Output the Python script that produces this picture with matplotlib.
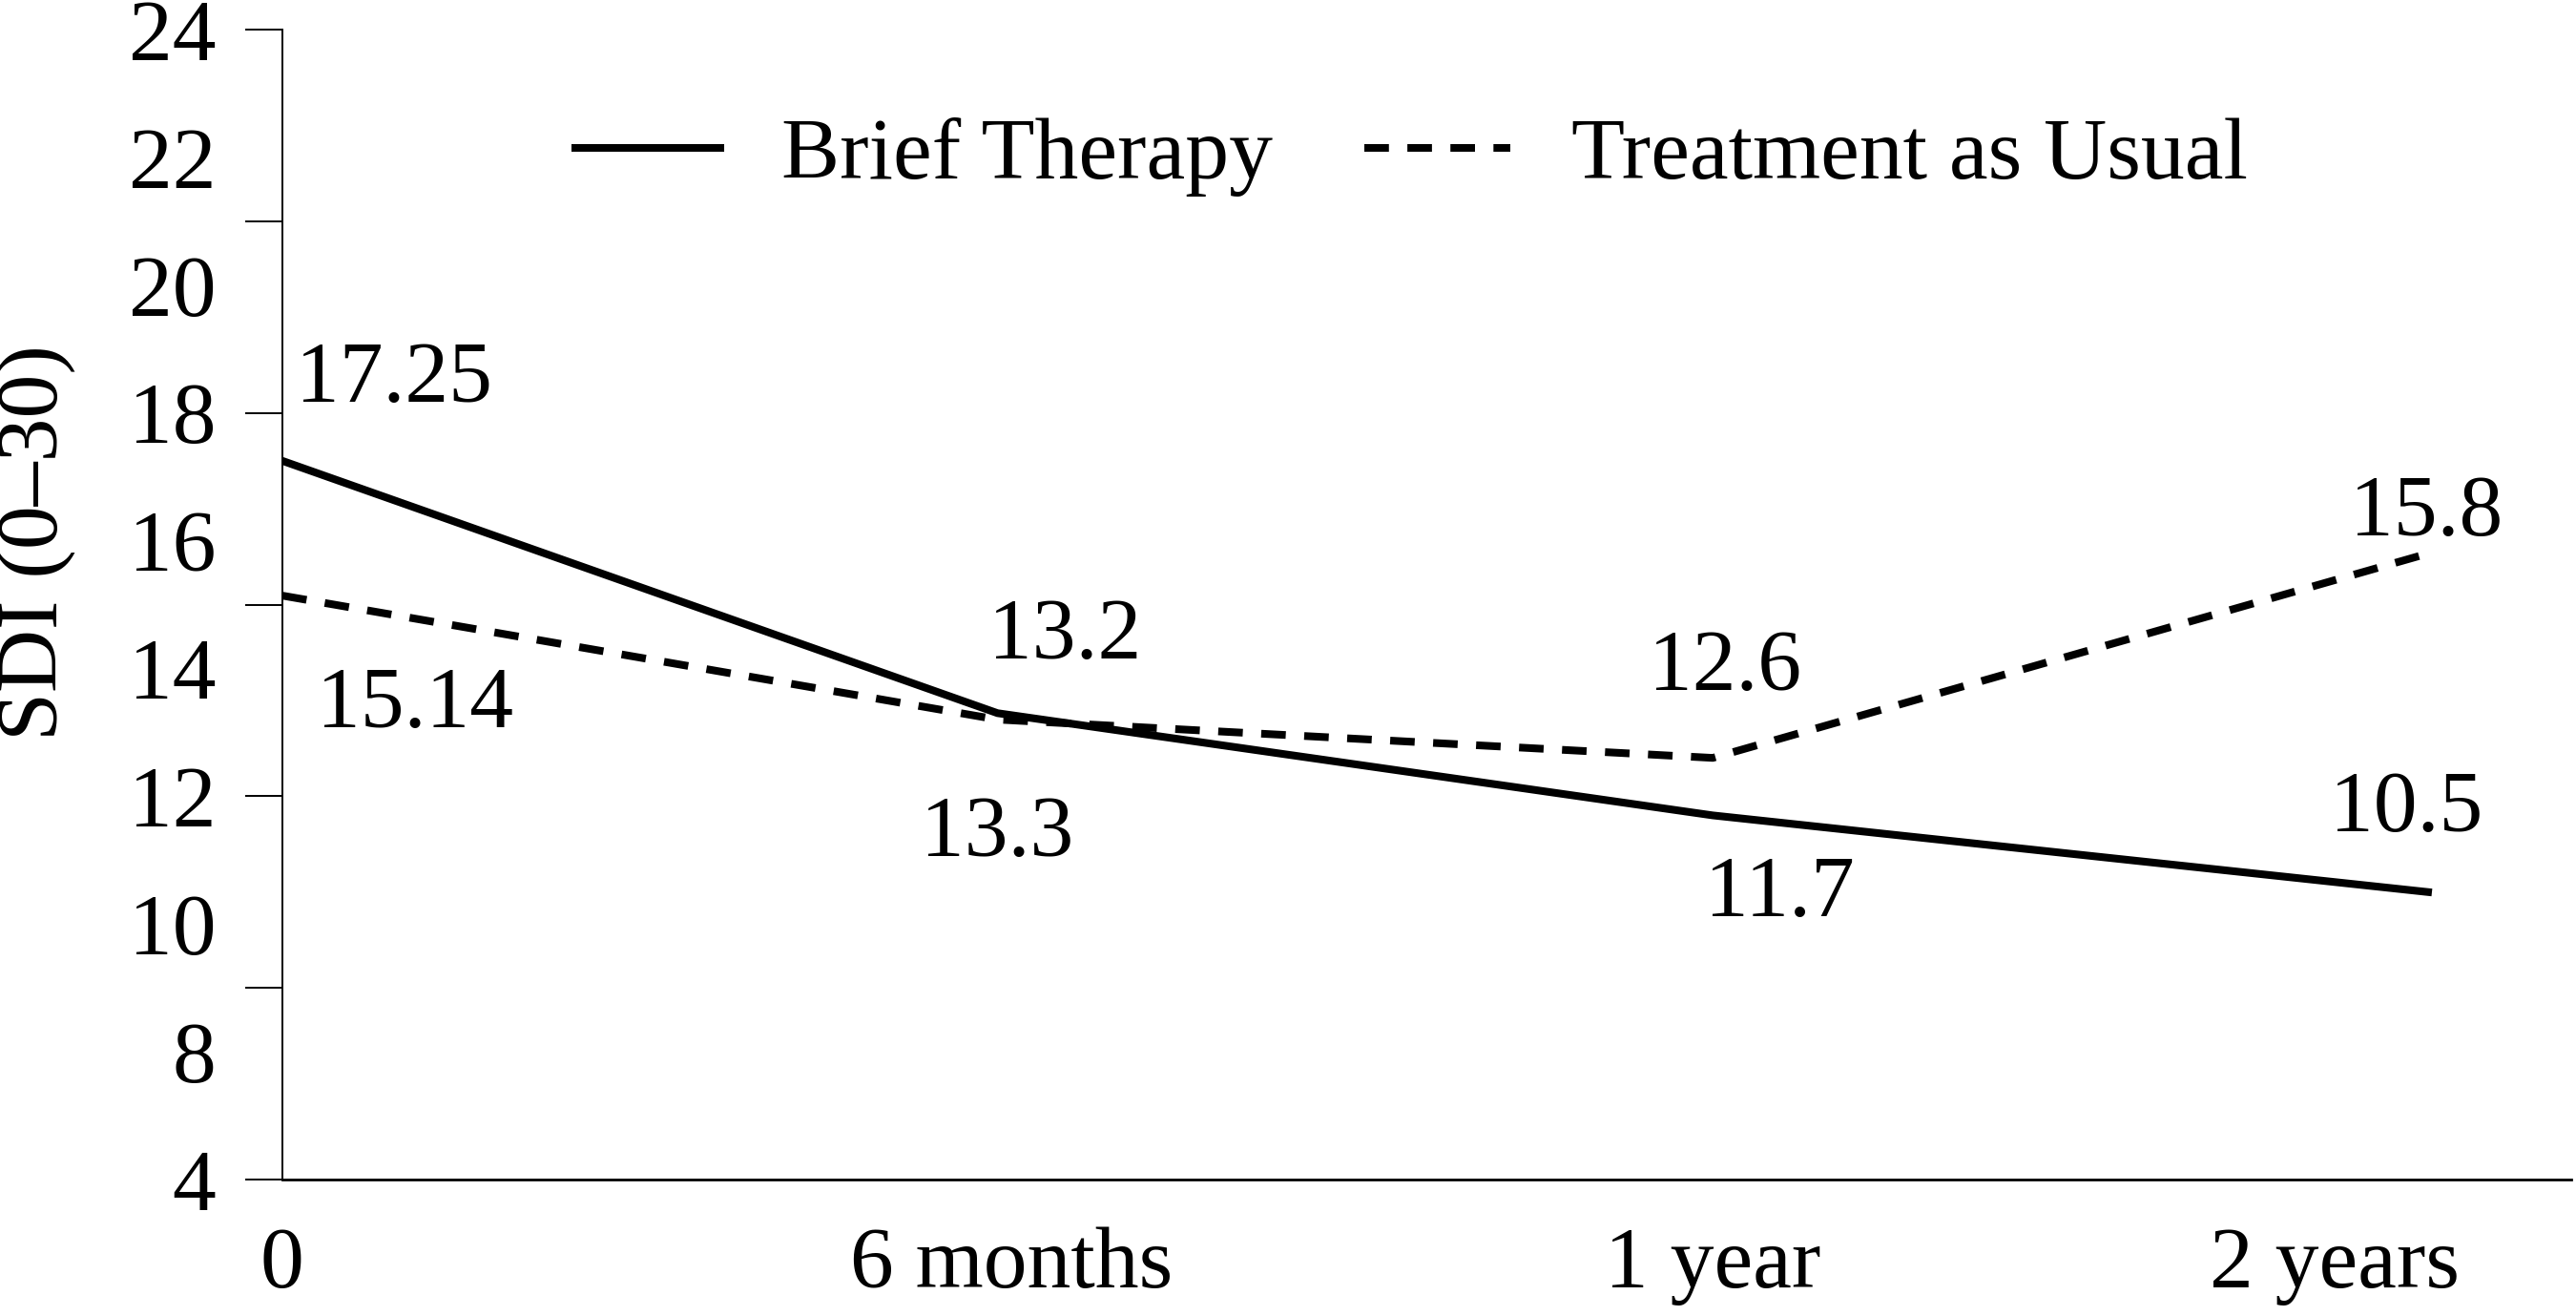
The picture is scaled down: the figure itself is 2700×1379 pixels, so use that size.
import matplotlib
matplotlib.use("Agg")
import matplotlib.pyplot as plt

plt.rcParams['font.family'] = ['Liberation Serif', 'DejaVu Serif']

# data
timepoints = ['0', '6 months', '1 year', '2 years']
x_idx = [0, 1, 2, 3]
brief = [17.25, 13.3, 11.7, 10.5]
tau = [15.14, 13.2, 12.6, 15.8]

# y axis labels (axis is drawn from 6 to 24, bottom label reads "4")
ylabel_pos = [6, 8, 10, 12, 14, 16, 18, 20, 22, 24]
ylabel_txt = ['4', '8', '10', '12', '14', '16', '18', '20', '22', '24']
ytick_marks = [6, 9, 12, 15, 18, 21, 24]

# label placement offsets (data units) from each point
brief_off = [(0.156, 1.25), (0.0, -1.9), (0.093, -1.25), (-0.03, 1.29)]
tau_off = [(0.186, -1.73), (0.094, 1.29), (0.017, 1.4), (-0.002, 0.62)]
xlabel_pos = [0.0, 1.02, 2.0, 2.87]

FS = 66

fig = plt.figure(figsize=(27, 13.79), dpi=100)
ax = fig.add_axes([0.1096, 0.1037, 0.8885, 0.8738])

l1, = ax.plot(x_idx, brief, color='black', lw=5.8, solid_joinstyle='miter',
              label='Brief Therapy')
l2, = ax.plot(x_idx, tau, color='black', lw=5.8, linestyle=(0, (3.2, 2.4)),
              label='Treatment as Usual')

for x, v, (dx, dy) in zip(x_idx, brief, brief_off):
    ax.text(x + dx, v + dy, f'{v:g}', fontsize=FS, ha='center', va='center')
for x, v, (dx, dy) in zip(x_idx, tau, tau_off):
    ax.text(x + dx, v + dy, f'{v:g}', fontsize=FS, ha='center', va='center')

ax.set_xlim(0, 3.2)
ax.set_ylim(6, 24)

ax.spines['top'].set_visible(False)
ax.spines['right'].set_visible(False)
ax.spines['left'].set_linewidth(1.4)
ax.spines['bottom'].set_linewidth(2.0)

ax.yaxis.remove_overlapping_locs = False
ax.set_yticks(ytick_marks)
ax.set_yticklabels([])
ax.tick_params(axis='y', which='major', length=28, width=1.4)
ax.set_yticks(ylabel_pos, minor=True)
ax.set_yticklabels(ylabel_txt, minor=True)
ax.tick_params(axis='y', which='minor', length=0, pad=50, labelsize=FS)

ax.set_xticks(xlabel_pos)
ax.set_xticklabels(timepoints)
ax.tick_params(axis='x', length=0, pad=36, labelsize=FS)

ax.legend(handles=[l1, l2], loc='center left', bbox_to_anchor=(0.2233, 0.881),
          bbox_transform=fig.transFigure, ncol=2, frameon=False, fontsize=FS,
          handlelength=1.66, handletextpad=0.7, columnspacing=1.05,
          borderpad=0, borderaxespad=0)

fig.text(0.014, 0.588, 'SDI (0–30)', rotation=90, fontsize=FS,
         ha='center', va='center')

fig.savefig('out.png', dpi=100)
